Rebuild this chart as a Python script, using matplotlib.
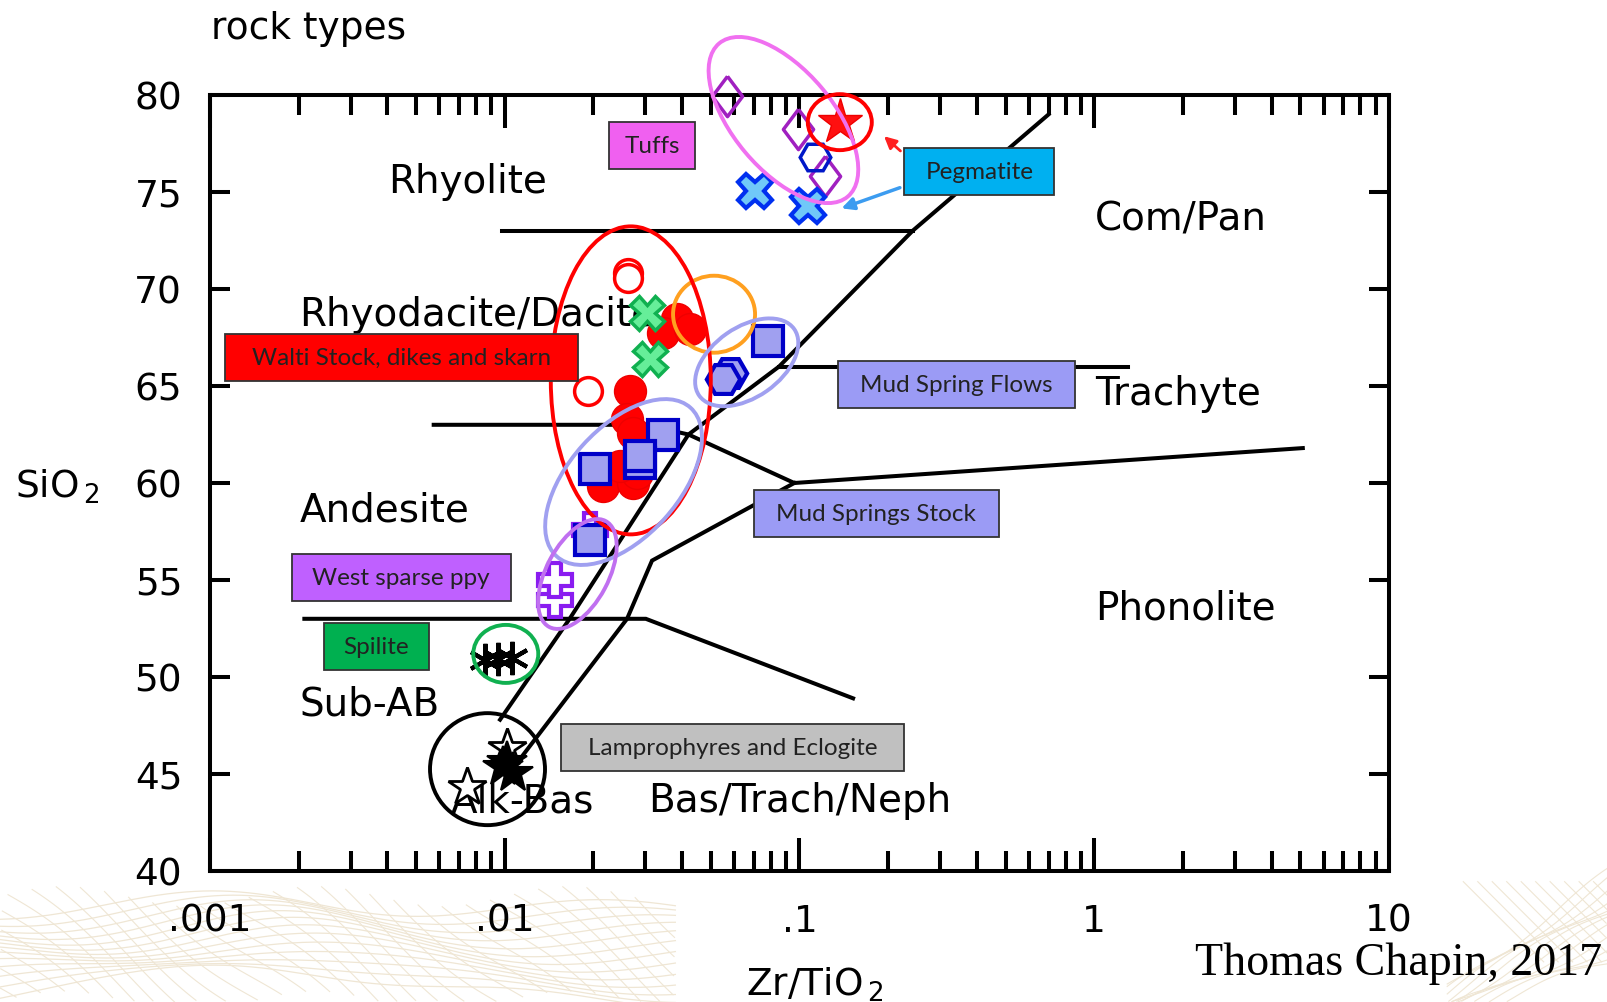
import numpy as np
import matplotlib
matplotlib.use('Agg')
import matplotlib.pyplot as plt
from matplotlib.patches import Ellipse, Rectangle
from matplotlib import transforms
from matplotlib.ticker import FixedLocator, LogLocator, NullFormatter

# ---------------- data ----------------
# classification boundaries (Zr/TiO2, SiO2)
rhy_line_x = [0.0098, 0.242]
rhy_line_y = [73.0, 73.0]
main_div_x = [0.00964, 0.0166, 0.042, 0.0852, 0.242, 0.70]
main_div_y = [47.8, 53.0, 62.5, 66.0, 73.0, 79.0]
and_line_x = [0.00574, 0.030, 0.042, 0.096, 5.1]
and_line_y = [63.0, 63.0, 62.5, 60.0, 61.8]
tra_line_x = [0.0852, 1.30]
tra_line_y = [66.0, 66.0]
sub_line_x = [0.00209, 0.0301, 0.152]
sub_line_y = [53.0, 53.0, 48.9]
low_div_x = [0.0113, 0.026, 0.0316, 0.096]
low_div_y = [45.8, 53.0, 56.0, 60.0]

# Walti stock, dikes and skarn
walti_fill_x = [0.0383, 0.0345, 0.0425, 0.0266, 0.0259, 0.0273, 0.0216, 0.0273, 0.0280, 0.0246]
walti_fill_y = [68.44, 67.75, 67.92, 64.74, 63.28, 62.59, 59.84, 60.01, 60.53, 60.87]
walti_open_x = [0.02625, 0.02625, 0.0192]
walti_open_y = [70.85, 70.59, 64.74]
skarn_x = [0.0303, 0.0311]
skarn_y = [68.78, 66.37]
# Mud Springs stock / flows
stock_x = [0.0345, 0.0288, 0.0288, 0.0202, 0.01946]
stock_y = [62.50, 61.05, 61.38, 60.70, 57.08]
flows_sq_x = [0.0784]
flows_sq_y = [67.32]
flows_hex_x = [0.0581, 0.0551]
flows_hex_y = [65.69, 65.34]
# West sparse ppy
ppy_x = [0.0195, 0.01481, 0.01481]
ppy_y = [57.6, 53.96, 55.02]
# Spilite
spil_x = [0.00857, 0.0095, 0.01056]
spil_y = [50.89, 50.95, 50.98]
# Lamprophyres and eclogite
lamp_fill_x = [0.00989, 0.01069, 0.0102]
lamp_fill_y = [45.38, 45.04, 45.6]
lamp_open_x = [0.00743, 0.01016]
lamp_open_y = [44.35, 46.33]
# Tuffs
tuff_dia_x = [0.0566, 0.0991, 0.122]
tuff_dia_y = [79.96, 78.25, 75.83]
tuff_hex_x = [0.113]
tuff_hex_y = [76.78]
# Pegmatite
peg_star_x = [0.1372]
peg_star_y = [78.59]
peg_x_x = [0.0706, 0.1072]
peg_x_y = [75.06, 74.29]

# field names: (label, x, baseline y)
field_labels = ['Rhyolite', 'Com/Pan', 'Rhyodacite/Dacite', 'Trachyte', 'Andesite',
                'Phonolite', 'Sub-AB', 'Alk-Bas', 'Bas/Trach/Neph']
field_x = [0.00401, 1.006, 0.00201, 1.006, 0.00201, 1.006, 0.00201, 0.00658, 0.0306]
field_y = [75.0, 73.05, 68.13, 64.05, 58.07, 52.99, 48.06, 43.09, 43.09]

# legend boxes
box_labels = ['Tuffs', 'Pegmatite', 'Walti Stock, dikes and skarn', 'Mud Spring Flows',
              'Mud Springs Stock', 'West sparse ppy', 'Spilite', 'Lamprophyres and Eclogite']
box_x = [0.0316, 0.4077, 0.00445, 0.3404, 0.1823, 0.00445, 0.00367, 0.0593]
box_y = [77.39, 76.04, 66.46, 65.10, 58.44, 55.15, 51.56, 46.37]
box_w = [86, 150, 353, 237, 245, 219, 105, 343]
box_colors = ['#f060f0', '#00b0f0', '#ff0000', '#9b9bf5', '#9b9bf5', '#bf60ff', '#00b050', '#c0c0c0']
box_text_colors = ['#222222'] * 8

# group ellipses: center x, center y, width px, height px, angle, colour
ell_x = [0.0882, 0.137, 0.0513, 0.02677, 0.0253, 0.0662, 0.01764, 0.01008, 0.00874]
ell_y = [78.71, 78.6, 68.7, 65.29, 60.05, 66.22, 55.31, 51.19, 45.25]
ell_w = [200, 64, 82, 160, 200, 116, 120, 65, 115]
ell_h = [100, 56, 77, 308, 110, 70, 62, 58, 112]
ell_a = [-50, 0, 0, 0, 48, 35, 62, 0, 0]
ell_c = ['#f070f0', '#ff0000', '#ffa020', '#ff0000', '#a0a0f0', '#a0a0f0', '#c070f0', '#10b050', '#000000']

xtick_vals = [0.001, 0.01, 0.1, 1, 10]
xtick_labels = ['.001', '.01', '.1', '1', '10']
ytick_vals = [40, 45, 50, 55, 60, 65, 70, 75, 80]

# ---------------- figure ----------------
W, H = 1608, 1003
fig = plt.figure(figsize=(W / 100, H / 100), dpi=100)
fig.patch.set_facecolor('white')

# decorative mesh in the bottom corners
mesh_col = '#efe6d4'
xs = np.linspace(0, 0.42, 300)
for k in range(13):
    base = 0.002 + k * 0.0075
    yy = base + 0.04 * np.exp(-((xs - 0.16) / 0.09) ** 2) * (1 - k / 16) + 0.01 * np.sin(xs * 25 + k * 0.4)
    fig.add_artist(plt.Line2D(xs, yy, color=mesh_col, lw=0.9, zorder=0))
for k in range(34):
    x0 = -0.1 + k * 0.015
    xx = np.linspace(x0, x0 + 0.08, 50)
    yy = 0.105 - (xx - x0) * 1.3 + 0.01 * np.sin(xx * 40)
    m = (xx >= 0) & (xx <= 0.42) & (yy >= 0)
    fig.add_artist(plt.Line2D(xx[m], yy[m], color=mesh_col, lw=0.8, zorder=0))
xr = np.linspace(0.9, 1.0, 100)
for k in range(12):
    yy = (xr - 0.9) * (0.6 + 0.05 * k) + 0.003 * k - 0.02 + 0.006 * np.sin(xr * 60 + k)
    m = yy >= 0
    fig.add_artist(plt.Line2D(xr[m], yy[m], color=mesh_col, lw=0.8, zorder=0))
for k in range(12):
    x0 = 0.91 + k * 0.009
    xx = np.linspace(x0, x0 + 0.05, 30)
    yy = 0.12 - (xx - x0) * 1.6
    m = (yy >= 0) & (xx <= 1.0)
    fig.add_artist(plt.Line2D(xx[m], yy[m], color=mesh_col, lw=0.8, zorder=0))

ax = fig.add_axes([210 / W, 1 - 872 / H, (1389 - 210) / W, (872 - 96) / H])
ax.set_facecolor('none')
ax.set_xscale('log')
ax.set_xlim(0.001, 10)
ax.set_ylim(40, 80)

LW = 2.9
for s in ax.spines.values():
    s.set_linewidth(LW)

ax.xaxis.set_major_locator(FixedLocator(xtick_vals))
ax.set_xticklabels(xtick_labels)
ax.xaxis.set_minor_locator(LogLocator(base=10, subs=np.arange(2, 10)))
ax.xaxis.set_minor_formatter(NullFormatter())
ax.set_yticks(ytick_vals)
ax.tick_params(axis='x', which='major', direction='in', length=24, width=LW,
               top=True, bottom=True, labelsize=27, pad=23)
ax.tick_params(axis='x', which='minor', direction='in', length=14.4, width=LW,
               top=True, bottom=True)
ax.tick_params(axis='y', which='major', direction='in', length=14.4, width=LW,
               left=True, right=True, labelsize=27, pad=20)

# boundary lines
for lx, ly in [(rhy_line_x, rhy_line_y), (main_div_x, main_div_y), (and_line_x, and_line_y),
               (tra_line_x, tra_line_y), (sub_line_x, sub_line_y), (low_div_x, low_div_y)]:
    ax.plot(lx, ly, color='black', lw=LW, zorder=2, solid_joinstyle='miter')

# field names
for lab, fx, fy in zip(field_labels, field_x, field_y):
    ax.text(fx, fy, lab, fontsize=28, ha='left', va='baseline', zorder=1.5)

# markers
def pts(xv, yv, **kw):
    ax.plot(xv, yv, linestyle='none', clip_on=False, zorder=4, **kw)

diamond = [(0, 1), (0.75, 0), (0, -1), (-0.75, 0), (0, 1)]
pts(walti_fill_x, walti_fill_y, marker='o', ms=23, mfc='#ff0000', mec='#ee0000', mew=1)
pts(walti_open_x, walti_open_y, marker='o', ms=20, mfc='white', mec='#ff0000', mew=2.5)
pts(skarn_x, skarn_y, marker='X', ms=24, mfc='#66ee99', mec='#10b050', mew=2.5)
pts(ppy_x, ppy_y, marker='P', ms=24, mfc='white', mec='#8a1cf0', mew=3)
pts(stock_x, stock_y, marker='s', ms=22, mfc='#a0a0f0', mec='#0000c8', mew=3)
pts(flows_sq_x, flows_sq_y, marker='s', ms=22, mfc='#a0a0f0', mec='#0000c8', mew=3)
pts(flows_hex_x, flows_hex_y, marker='H', ms=24, mfc='#a0a0f0', mec='#0000c8', mew=3)
pts(spil_x, spil_y, marker=(6, 2, 0), ms=24, mec='black', mew=3)
pts(lamp_open_x, lamp_open_y, marker='*', ms=29, mfc='white', mec='black', mew=2)
pts(lamp_fill_x, lamp_fill_y, marker='*', ms=30, mfc='black', mec='black', mew=1.5)
pts(tuff_dia_x, tuff_dia_y, marker=diamond, ms=29, mfc='none', mec='#a020c0', mew=2.5)
pts(tuff_hex_x, tuff_hex_y, marker='H', ms=22, mfc='none', mec='#0018c8', mew=2.5)
pts(peg_star_x, peg_star_y, marker='*', ms=34, mfc='#ff1010', mec='#ee0000', mew=1)
pts(peg_x_x, peg_x_y, marker='X', ms=25, mfc='#70c8f8', mec='#0030f0', mew=3)

# group ellipses (sizes in pixels, centred in data coordinates)
for ex, ey, ew, eh, ea, ec in zip(ell_x, ell_y, ell_w, ell_h, ell_a, ell_c):
    tr = fig.dpi_scale_trans + transforms.ScaledTranslation(ex, ey, ax.transData)
    e = Ellipse((0, 0), ew / 100, eh / 100, angle=ea, transform=tr, fill=False,
                edgecolor=ec, linewidth=2.8, clip_on=False, zorder=6)
    ax.add_patch(e)

# legend boxes
BH = 47
for lab, bx, by, bw, bc, tc in zip(box_labels, box_x, box_y, box_w, box_colors, box_text_colors):
    tr = fig.dpi_scale_trans + transforms.ScaledTranslation(bx, by, ax.transData)
    r = Rectangle((-bw / 200, -BH / 200), bw / 100, BH / 100, transform=tr,
                  facecolor=bc, edgecolor='#333333', linewidth=1.3, clip_on=False, zorder=7)
    ax.add_patch(r)
    ax.text(bx, by, lab, ha='center', va='center', fontsize=17.5, family='Lato',
            color=tc, zorder=8)

# arrows from the Pegmatite box
ax.annotate('', xy=(0.1905, 77.97), xytext=(0.2236, 77.02),
            arrowprops=dict(arrowstyle='-|>', color='#ff2020', lw=2, mutation_scale=18), zorder=8)
ax.annotate('', xy=(0.136, 74.11), xytext=(0.2236, 75.27),
            arrowprops=dict(arrowstyle='-|>', color='#3c9cf0', lw=2.5, mutation_scale=18), zorder=8)

# outer texts
fig.text(211 / W, 1 - 39 / H, 'rock types', fontsize=27, ha='left', va='baseline')
fig.text(15 / W, 1 - 487 / H, r'SiO$_{\,2}$', fontsize=27, ha='left', va='center')
fig.text(815 / W, 1 - 985 / H, r'Zr/TiO$_{\,2}$', fontsize=27, ha='center', va='center')
fig.text(1602 / W, 1 - 975 / H, 'Thomas Chapin, 2017', fontsize=33, ha='right',
         va='baseline', family='Liberation Serif')

fig.savefig('out.png', dpi=100, facecolor='white')
